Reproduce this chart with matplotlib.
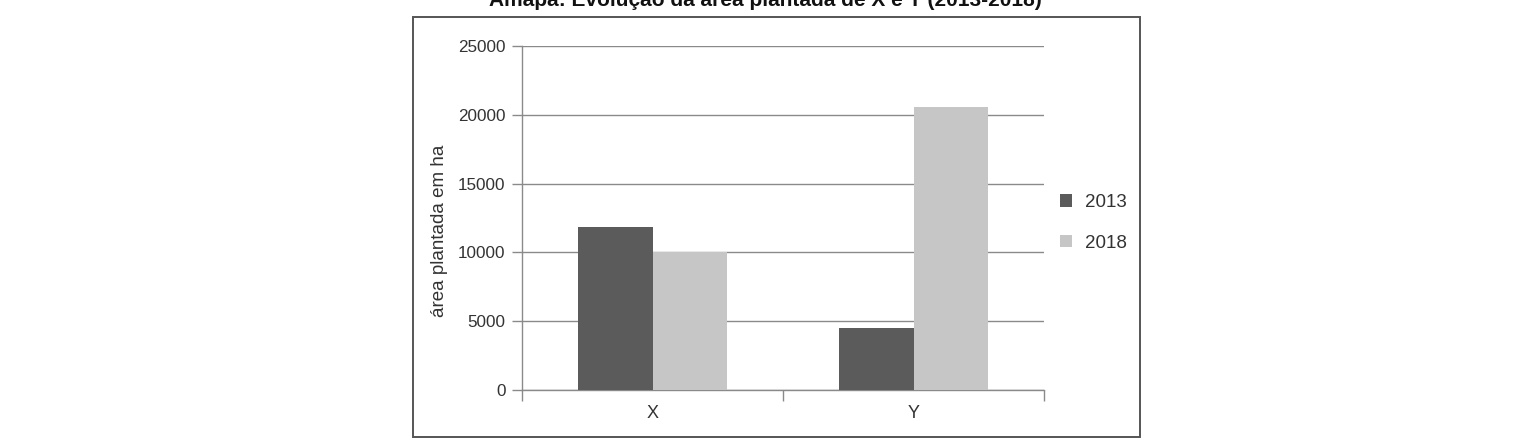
import numpy as np
import matplotlib
matplotlib.use('Agg')
from matplotlib import pyplot as plt
from matplotlib.patches import Rectangle

plt.rcParams['font.family'] = ['Liberation Sans', 'DejaVu Sans']

# data
categories = ['X', 'Y']
years = ['2013', '2018']
area_2013 = [11850, 4500]
area_2018 = [10050, 20600]
yticks = [0, 5000, 10000, 15000, 20000, 25000]

dark = '#5b5b5b'
light = '#c6c6c6'
linecol = '#8a8a8a'
textcol = '#333333'

fig = plt.figure(figsize=(15.15, 4.48), dpi=100)

# outer frame around the chart
fig.patches.append(Rectangle((0.2726, 0.0246), 0.7525 - 0.2726, 0.962 - 0.0246,
                             transform=fig.transFigure, fill=False,
                             edgecolor='#555555', linewidth=1.4))

# title sits partly above the top edge, as in the reference
fig.text(0.505, 0.987, 'Amapá: Evolução da área plantada de X e Y (2013-2018)',
         ha='center', va='baseline', fontsize=15, fontweight='bold', color='#111111')

ax = fig.add_axes([0.3446, 0.1295, 0.3445, 0.7679])

pos = np.arange(len(categories)) + 0.5
w = 0.287
ax.bar(pos - w / 2, area_2013, width=w, color=dark, label=years[0], zorder=3)
ax.bar(pos + w / 2, area_2018, width=w, color=light, label=years[1], zorder=3)

ax.set_xlim(0, len(categories))
ax.set_ylim(0, 25000)
ax.set_yticks(yticks)
ax.set_yticklabels([str(t) for t in yticks], fontsize=12.3, color=textcol)
ax.grid(axis='y', color=linecol, linewidth=1.0, zorder=0)

ax.set_xticks(np.arange(len(categories) + 1))
ax.set_xticklabels([])
ax.set_xticks(pos, minor=True)
ax.set_xticklabels(categories, minor=True, fontsize=13, color=textcol)
ax.tick_params(axis='x', which='major', length=8, color=linecol, width=1.0)
ax.tick_params(axis='x', which='minor', length=0, pad=11)
ax.tick_params(axis='y', length=7, color=linecol, width=1.0, pad=5)

for s in ['top', 'right']:
    ax.spines[s].set_visible(False)
for s in ['left', 'bottom']:
    ax.spines[s].set_color(linecol)
    ax.spines[s].set_linewidth(1.0)

ax.set_ylabel('área plantada em ha', fontsize=13.5, color=textcol)
ax.yaxis.set_label_coords(-0.142, 0.462)

ax.legend(loc='center left', bbox_to_anchor=(0.999, 0.486), frameon=False,
          fontsize=13.5, handlelength=0.64, handleheight=0.64, labelspacing=1.25,
          handletextpad=0.7, labelcolor=textcol)

fig.savefig('out.png', dpi=100)
